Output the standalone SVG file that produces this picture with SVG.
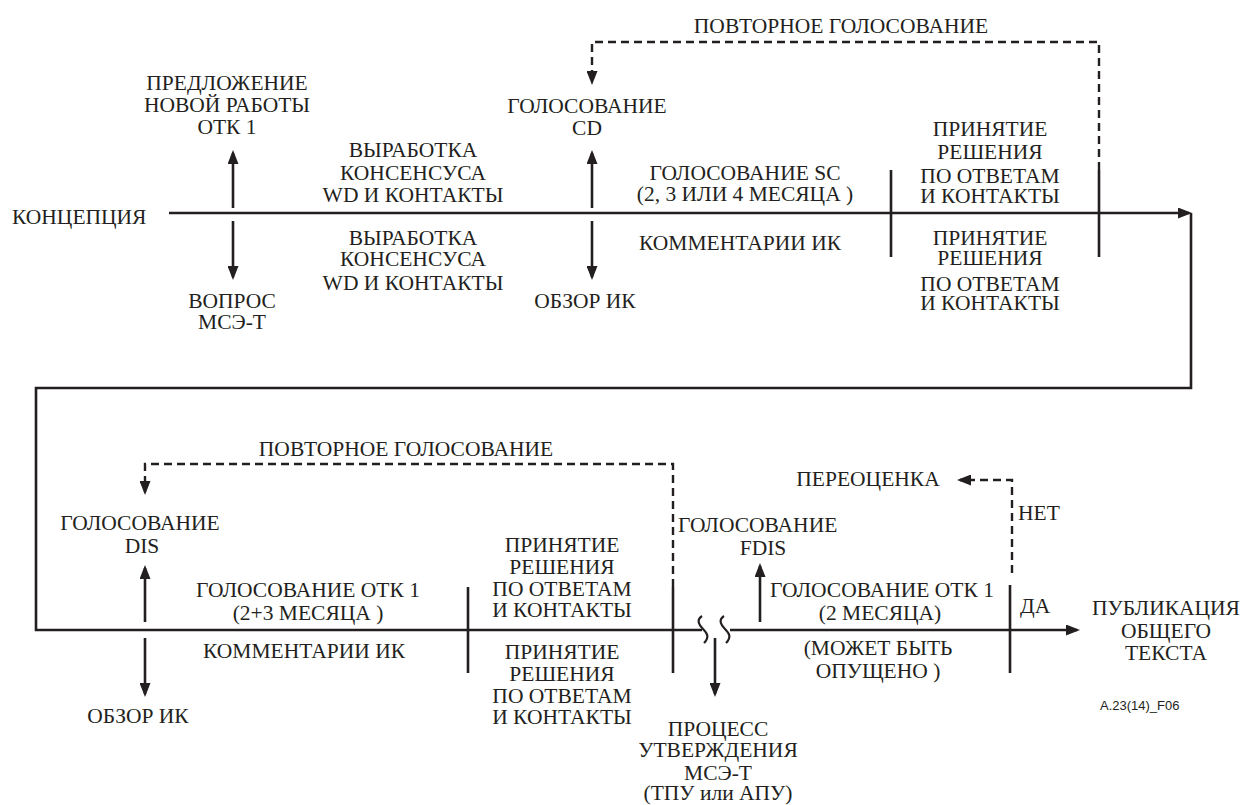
<svg xmlns="http://www.w3.org/2000/svg" width="1242" height="805" viewBox="0 0 1242 805">
  <style>
    text { font-family: 'Liberation Serif', 'Times New Roman', serif !important; font-size: 21.5px; fill: #231f20; }
    text.code { font-family: 'Liberation Sans', Arial, sans-serif !important; font-size: 13px; }
  </style>
  <defs>
    <marker id="ah" markerUnits="userSpaceOnUse" markerWidth="14" markerHeight="11" refX="11" refY="5.5" orient="auto" viewBox="0 0 14 11">
      <path d="M0,0 L14,5.5 L0,11 Z" fill="#231f20"/>
    </marker>
  </defs>
  <rect width="1242" height="805" fill="#ffffff"/>

  <!-- connectors -->
  <g id="connectors" fill="none" stroke="#231f20" stroke-width="2.6">
    <!-- main time lines -->
    <path marker-end="url(#ah)" d="M169,213 H1189"/>
    <path d="M1191,213 V388 H36 V630 H702"/>
    <path marker-end="url(#ah)" d="M730,630 H1077"/>
    <!-- break symbol -->
    <path stroke-width="2.2" d="M702,616 C696,620 699,625 703,629 C707,633 710,637 704,643"/>
    <path stroke-width="2.2" d="M724,616 C718,620 721,625 725,629 C729,633 732,637 726,643"/>
    <!-- vertical arrows -->
    <path marker-end="url(#ah)" d="M233,208 V153"/>
    <path marker-end="url(#ah)" d="M233,221 V277"/>
    <path marker-end="url(#ah)" d="M592,208 V153"/>
    <path marker-end="url(#ah)" d="M592,221 V277"/>
    <path marker-end="url(#ah)" d="M145,622 V568"/>
    <path marker-end="url(#ah)" d="M145,638 V694"/>
    <path marker-end="url(#ah)" d="M760,622 V566"/>
    <path marker-end="url(#ah)" d="M715,638 V694"/>
    <!-- stage ticks -->
    <path d="M891,170 V257"/>
    <path d="M1099,170 V257"/>
    <path d="M468,587 V673"/>
    <path d="M673,587 V673"/>
    <path d="M1010,585 V673"/>
    <!-- re-vote / re-evaluation loops -->
    <g stroke-width="2.4" stroke-dasharray="8 5">
      <path marker-end="url(#ah)" d="M1099,170 V42 H592 V82"/>
      <path marker-end="url(#ah)" d="M673,587 V464 H145 V492"/>
      <path marker-end="url(#ah)" d="M1012,573 V480 H960"/>
    </g>
  </g>

  <g id="labels" fill="#231f20" text-anchor="middle">
    <g id="concept"><text style="font-family:'Liberation Serif',serif !important" font-family="Liberation Serif" font-size="21.5" text-anchor="start" x="12" y="224">КОНЦЕПЦИЯ</text></g>

    <g id="nwi">
      <text style="font-family:'Liberation Serif',serif !important" font-family="Liberation Serif" font-size="21.5" x="227" y="90">ПРЕДЛОЖЕНИЕ</text>
      <text style="font-family:'Liberation Serif',serif !important" font-family="Liberation Serif" font-size="21.5" x="227" y="112">НОВОЙ РАБОТЫ</text>
      <text style="font-family:'Liberation Serif',serif !important" font-family="Liberation Serif" font-size="21.5" x="227" y="134">ОТК 1</text>
    </g>
    <g id="itu-question">
      <text style="font-family:'Liberation Serif',serif !important" font-family="Liberation Serif" font-size="21.5" x="232" y="308">ВОПРОС</text>
      <text style="font-family:'Liberation Serif',serif !important" font-family="Liberation Serif" font-size="21.5" x="232" y="329">МСЭ-Т</text>
    </g>

    <g id="wd-upper">
      <text style="font-family:'Liberation Serif',serif !important" font-family="Liberation Serif" font-size="21.5" x="413" y="157">ВЫРАБОТКА</text>
      <text style="font-family:'Liberation Serif',serif !important" font-family="Liberation Serif" font-size="21.5" x="413" y="180">КОНСЕНСУСА</text>
      <text style="font-family:'Liberation Serif',serif !important" font-family="Liberation Serif" font-size="21.5" x="413" y="202">WD И КОНТАКТЫ</text>
    </g>
    <g id="wd-lower">
      <text style="font-family:'Liberation Serif',serif !important" font-family="Liberation Serif" font-size="21.5" x="413" y="245">ВЫРАБОТКА</text>
      <text style="font-family:'Liberation Serif',serif !important" font-family="Liberation Serif" font-size="21.5" x="413" y="266">КОНСЕНСУСА</text>
      <text style="font-family:'Liberation Serif',serif !important" font-family="Liberation Serif" font-size="21.5" x="413" y="290">WD И КОНТАКТЫ</text>
    </g>

    <g id="cd-vote">
      <text style="font-family:'Liberation Serif',serif !important" font-family="Liberation Serif" font-size="21.5" x="587" y="113">ГОЛОСОВАНИЕ</text>
      <text style="font-family:'Liberation Serif',serif !important" font-family="Liberation Serif" font-size="21.5" x="587" y="135">CD</text>
    </g>
    <g id="cd-review"><text style="font-family:'Liberation Serif',serif !important" font-family="Liberation Serif" font-size="21.5" x="585" y="308">ОБЗОР ИК</text></g>

    <g id="revote-top"><text style="font-family:'Liberation Serif',serif !important" font-family="Liberation Serif" font-size="21.5" x="841" y="33">ПОВТОРНОЕ ГОЛОСОВАНИЕ</text></g>

    <g id="sc-vote">
      <text style="font-family:'Liberation Serif',serif !important" font-family="Liberation Serif" font-size="21.5" x="745" y="180">ГОЛОСОВАНИЕ SC</text>
      <text style="font-family:'Liberation Serif',serif !important" font-family="Liberation Serif" font-size="21.5" x="745" y="201">(2, 3 ИЛИ 4 МЕСЯЦА )</text>
    </g>
    <g id="sc-comments"><text style="font-family:'Liberation Serif',serif !important" font-family="Liberation Serif" font-size="21.5" x="740" y="250">КОММЕНТАРИИ ИК</text></g>

    <g id="decision-top-upper">
      <text style="font-family:'Liberation Serif',serif !important" font-family="Liberation Serif" font-size="21.5" x="990" y="136">ПРИНЯТИЕ</text>
      <text style="font-family:'Liberation Serif',serif !important" font-family="Liberation Serif" font-size="21.5" x="990" y="159">РЕШЕНИЯ</text>
      <text style="font-family:'Liberation Serif',serif !important" font-family="Liberation Serif" font-size="21.5" x="990" y="183">ПО ОТВЕТАМ</text>
      <text style="font-family:'Liberation Serif',serif !important" font-family="Liberation Serif" font-size="21.5" x="990" y="203">И КОНТАКТЫ</text>
    </g>
    <g id="decision-top-lower">
      <text style="font-family:'Liberation Serif',serif !important" font-family="Liberation Serif" font-size="21.5" x="990" y="245">ПРИНЯТИЕ</text>
      <text style="font-family:'Liberation Serif',serif !important" font-family="Liberation Serif" font-size="21.5" x="990" y="265">РЕШЕНИЯ</text>
      <text style="font-family:'Liberation Serif',serif !important" font-family="Liberation Serif" font-size="21.5" x="990" y="291">ПО ОТВЕТАМ</text>
      <text style="font-family:'Liberation Serif',serif !important" font-family="Liberation Serif" font-size="21.5" x="990" y="310">И КОНТАКТЫ</text>
    </g>

    <g id="revote-bottom"><text style="font-family:'Liberation Serif',serif !important" font-family="Liberation Serif" font-size="21.5" x="406" y="456">ПОВТОРНОЕ ГОЛОСОВАНИЕ</text></g>

    <g id="dis-vote">
      <text style="font-family:'Liberation Serif',serif !important" font-family="Liberation Serif" font-size="21.5" x="140" y="530">ГОЛОСОВАНИЕ</text>
      <text style="font-family:'Liberation Serif',serif !important" font-family="Liberation Serif" font-size="21.5" x="142" y="553">DIS</text>
    </g>
    <g id="dis-review"><text style="font-family:'Liberation Serif',serif !important" font-family="Liberation Serif" font-size="21.5" x="138" y="723">ОБЗОР ИК</text></g>

    <g id="jtc-vote">
      <text style="font-family:'Liberation Serif',serif !important" font-family="Liberation Serif" font-size="21.5" x="308" y="597">ГОЛОСОВАНИЕ ОТК 1</text>
      <text style="font-family:'Liberation Serif',serif !important" font-family="Liberation Serif" font-size="21.5" x="308" y="620">(2+3 МЕСЯЦА )</text>
    </g>
    <g id="dis-comments"><text style="font-family:'Liberation Serif',serif !important" font-family="Liberation Serif" font-size="21.5" x="304" y="658">КОММЕНТАРИИ ИК</text></g>

    <g id="decision-bottom-upper">
      <text style="font-family:'Liberation Serif',serif !important" font-family="Liberation Serif" font-size="21.5" x="562" y="552">ПРИНЯТИЕ</text>
      <text style="font-family:'Liberation Serif',serif !important" font-family="Liberation Serif" font-size="21.5" x="562" y="574">РЕШЕНИЯ</text>
      <text style="font-family:'Liberation Serif',serif !important" font-family="Liberation Serif" font-size="21.5" x="562" y="596">ПО ОТВЕТАМ</text>
      <text style="font-family:'Liberation Serif',serif !important" font-family="Liberation Serif" font-size="21.5" x="562" y="617">И КОНТАКТЫ</text>
    </g>
    <g id="decision-bottom-lower">
      <text style="font-family:'Liberation Serif',serif !important" font-family="Liberation Serif" font-size="21.5" x="562" y="659">ПРИНЯТИЕ</text>
      <text style="font-family:'Liberation Serif',serif !important" font-family="Liberation Serif" font-size="21.5" x="562" y="681">РЕШЕНИЯ</text>
      <text style="font-family:'Liberation Serif',serif !important" font-family="Liberation Serif" font-size="21.5" x="562" y="703">ПО ОТВЕТАМ</text>
      <text style="font-family:'Liberation Serif',serif !important" font-family="Liberation Serif" font-size="21.5" x="562" y="724">И КОНТАКТЫ</text>
    </g>

    <g id="itu-approval">
      <text style="font-family:'Liberation Serif',serif !important" font-family="Liberation Serif" font-size="21.5" x="718" y="736">ПРОЦЕСС</text>
      <text style="font-family:'Liberation Serif',serif !important" font-family="Liberation Serif" font-size="21.5" x="718" y="757">УТВЕРЖДЕНИЯ</text>
      <text style="font-family:'Liberation Serif',serif !important" font-family="Liberation Serif" font-size="21.5" x="718" y="780">МСЭ-Т</text>
      <text style="font-family:'Liberation Serif',serif !important" font-family="Liberation Serif" font-size="21.5" x="718" y="800">(ТПУ или АПУ)</text>
    </g>

    <g id="fdis-vote">
      <text style="font-family:'Liberation Serif',serif !important" font-family="Liberation Serif" font-size="21.5" text-anchor="start" x="678" y="532">ГОЛОСОВАНИЕ</text>
      <text style="font-family:'Liberation Serif',serif !important" font-family="Liberation Serif" font-size="21.5" x="763" y="555">FDIS</text>
    </g>

    <g id="jtc-vote-final">
      <text style="font-family:'Liberation Serif',serif !important" font-family="Liberation Serif" font-size="21.5" x="882" y="597">ГОЛОСОВАНИЕ ОТК 1</text>
      <text style="font-family:'Liberation Serif',serif !important" font-family="Liberation Serif" font-size="21.5" x="880" y="620">(2 МЕСЯЦА)</text>
    </g>
    <g id="may-be-omitted">
      <text style="font-family:'Liberation Serif',serif !important" font-family="Liberation Serif" font-size="21.5" x="878" y="655">(МОЖЕТ БЫТЬ</text>
      <text style="font-family:'Liberation Serif',serif !important" font-family="Liberation Serif" font-size="21.5" x="878" y="678">ОПУЩЕНО )</text>
    </g>

    <g id="reevaluation"><text style="font-family:'Liberation Serif',serif !important" font-family="Liberation Serif" font-size="21.5" x="868" y="486">ПЕРЕОЦЕНКА</text></g>
    <g id="no"><text style="font-family:'Liberation Serif',serif !important" font-family="Liberation Serif" font-size="21.5" text-anchor="start" x="1018" y="520">НЕТ</text></g>
    <g id="yes"><text style="font-family:'Liberation Serif',serif !important" font-family="Liberation Serif" font-size="21.5" text-anchor="start" x="1020" y="613">ДА</text></g>

    <g id="publication">
      <text style="font-family:'Liberation Serif',serif !important" font-family="Liberation Serif" font-size="21.5" x="1166" y="615">ПУБЛИКАЦИЯ</text>
      <text style="font-family:'Liberation Serif',serif !important" font-family="Liberation Serif" font-size="21.5" x="1166" y="638">ОБЩЕГО</text>
      <text style="font-family:'Liberation Serif',serif !important" font-family="Liberation Serif" font-size="21.5" x="1166" y="660">ТЕКСТА</text>
    </g>

    <text class="code" style="font-family:'Liberation Sans',sans-serif !important" font-family="Liberation Sans" font-size="13" text-anchor="start" x="1100" y="710">A.23(14)_F06</text>
  </g>
</svg>
